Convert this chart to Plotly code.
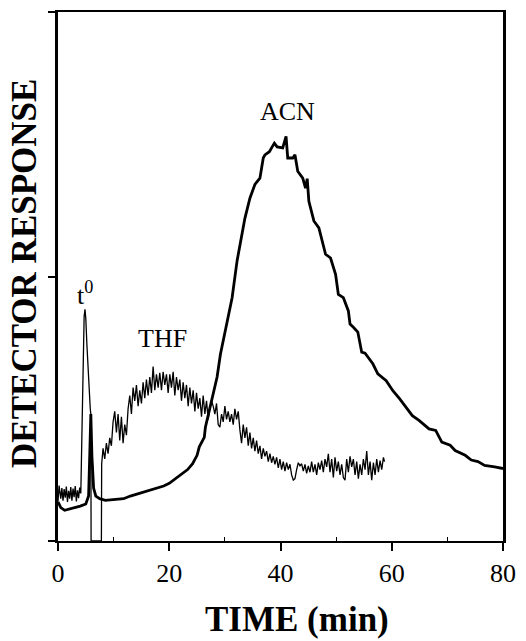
import plotly.graph_objects as go

# ---- data ----
acn_t = [0, 0.5, 1.2, 2.0, 3.0, 4.0, 5.0, 5.5, 5.7, 5.9, 6.1, 6.4, 6.8, 7.5, 8.5, 10, 11.8, 13,
         14.7, 16, 17.7, 19, 20, 21.2, 22.4, 23.3, 24.2, 25, 25.4, 26.3, 26.5, 27.7, 28.6, 29.2,
         29.8, 30.4, 31.3, 32.2, 32.7, 33.6, 34.5, 35.4, 36.3, 36.9, 37.2, 38, 38.5, 38.9, 39.4,
         40, 40.4, 41, 41.3, 42.2, 42.6, 43.1, 44, 44.5, 44.8, 45.1, 46, 46.9, 47.5, 48.1, 49,
         49.9, 50.4, 51.3, 52.2, 52.5, 53.1, 53.9, 54.6, 55.2, 56.6, 57.5, 59, 60.2, 61.4, 62.5,
         63.7, 64.9, 66.7, 67.9, 69, 70.5, 71.4, 73.2, 74.3, 75.5, 76.7, 78.5, 80]
acn_v = [7.4, 6.3, 5.8, 6.0, 6.3, 6.6, 7.0, 8.5, 16, 24, 16, 10, 8.5, 8.0, 7.7, 7.8, 8.0, 8.5,
         9.0, 9.5, 9.9, 10.4, 10.9, 11.8, 12.7, 13.5, 14.6, 16.2, 17.8, 19.6, 21.5, 27, 31, 35.3,
         38.5, 41.6, 46, 53, 56, 61, 64.8, 67.4, 68.6, 72.4, 73, 73.6, 74.5, 75.2, 74.5,
         74.3, 74.3, 76.5, 72.4, 72.4, 73, 69.9, 68.6, 66.7, 68.5, 64.2, 60.5, 59.2, 56.7, 54.2, 53.5,
         50.4, 46.6, 46, 43.5, 41, 40.4, 39.5, 35.7, 35.5, 33.5, 31.6, 30.3, 28.4, 26.9, 25.3,
         23.7, 22.8, 21.2, 20.9, 18.7, 18.1, 17.1, 16.2, 15.3, 15.0, 14.3, 14.0, 13.7]

thf_t = [0, 0.2, 0.5, 0.7, 0.9, 1.1, 1.3, 1.5, 1.7, 1.9, 2.1, 2.3, 2.5, 2.7, 2.9, 3.1, 3.3, 3.5,
         3.7, 3.9, 4.1, 4.3, 4.5, 4.7, 4.85, 5.0, 5.2, 5.4, 5.6, 5.8, 5.9, 5.95, 7.8, 7.85,
         8.1, 8.4, 8.7, 9.0, 9.3, 9.6, 9.9, 10.2, 10.5, 10.8, 11.1, 11.4, 11.7, 12.0, 12.3, 12.6,
         12.9, 13.2, 13.5, 13.8, 14.1, 14.4, 14.7, 15.0, 15.3, 15.6, 15.9, 16.2, 16.5, 16.8,
         17.1, 17.4, 17.7, 18.0, 18.3, 18.6, 18.9, 19.2, 19.5, 19.8, 20.1, 20.4, 20.7, 21.0,
         21.3, 21.6, 21.9, 22.2, 22.5, 22.8, 23.1, 23.4, 23.7, 24.0, 24.3, 24.6, 24.9, 25.2,
         25.5, 25.8, 26.1, 26.4, 26.7, 27.0, 27.3, 27.6, 27.9, 28.2, 28.5, 28.8, 29.1, 29.4,
         29.7, 30.0, 30.3, 30.6, 30.9, 31.2, 31.5, 31.8, 32.1, 32.4, 32.7, 33.0, 33.3, 33.6,
         33.9, 34.2, 34.5, 34.8, 35.1, 35.4, 35.7, 36.0, 36.3, 36.6, 36.9, 37.2, 37.5, 37.8,
         38.1, 38.4, 38.7, 39.0, 39.3, 39.6, 39.9, 40.2, 40.5, 40.8, 41.1, 41.4, 41.7, 42.0,
         42.3, 42.6, 42.9, 43.2, 43.5, 43.8, 44.1, 44.4, 44.7, 45.0, 45.3, 45.6, 45.9, 46.2,
         46.5, 46.8, 47.1, 47.4, 47.7, 48.0, 48.3, 48.6, 48.9, 49.2, 49.5, 49.8, 50.1, 50.4,
         50.7, 51.0, 51.3, 51.6, 51.9, 52.2, 52.5, 52.8, 53.1, 53.4, 53.7, 54.0, 54.3, 54.6,
         54.9, 55.2, 55.5, 55.8, 56.1, 56.4, 56.7, 57.0, 57.3, 57.6, 57.9, 58.2, 58.5, 58.7]
thf_v = [7.5, 10.5, 8.0, 10.0, 7.6, 9.8, 8.2, 10.3, 7.4, 9.5, 8.0, 10.2, 7.6, 9.9, 8.3, 10.4,
         7.5, 9.6, 8.1, 10.1, 9.0, 20, 36, 42.5, 43.8, 42, 37, 32, 27, 25, 24, 0, 0, 14.6,
         17.5, 15.5, 18.5, 16.5, 19.5, 18.0, 22.5, 24.5, 20.5, 24.0, 19.0, 23.5, 18.5, 22.0, 20.0, 25.0,
         27.5, 24.0, 29.0, 26.5, 29.5, 25.5, 28.5, 26.0, 30.0, 27.0, 30.5, 27.5, 31.0, 28.0,
         33.0, 28.5, 31.5, 29.0, 31.8, 28.5, 32.0, 29.5, 31.5, 28.0, 31.5, 29.0, 32.0, 27.5,
         31.0, 28.5, 30.5, 26.5, 30.0, 27.0, 29.5, 25.5, 29.0, 26.0, 28.5, 24.5, 28.0, 25.0,
         27.0, 23.5, 27.5, 24.0, 26.5, 23.0, 25.0, 26.5, 25.5, 24.0, 26.0, 22.0, 21.5, 24.0,
         22.5, 25.5, 23.0, 24.5, 22.5, 24.0, 22.0, 25.0, 23.0, 24.5, 21.0, 18.5, 22.0, 19.5,
         21.5, 18.0, 20.5, 17.5, 19.5, 17.0, 19.0, 16.5, 18.0, 15.5, 17.5, 16.0, 17.0, 15.0,
         16.5, 14.8, 16.0, 14.5, 15.8, 13.8, 15.5, 13.5, 15.0, 13.2, 14.8, 13.5, 14.5, 12.5,
         11.5, 11.8, 13.5, 14.8, 14.2, 14.6, 13.2, 14.5, 12.8, 14.2, 13.0, 15.0, 13.0, 14.5,
         12.5, 14.8, 13.5, 15.2, 13.0, 15.5, 14.0, 16.5, 13.0, 15.5, 12.0, 15.8, 13.2, 15.0,
         12.5, 14.5, 12.0, 11.5, 15.5, 13.0, 16.0, 14.0, 15.5, 12.5, 15.0, 11.8, 14.5, 12.5,
         15.5, 13.5, 17.0, 12.5, 15.0, 11.5, 14.8, 12.5, 15.5, 13.0, 15.2, 13.5, 15.8, 15.0]

x_ticks = [0, 20, 40, 60, 80]
x_labels = ["0", "20", "40", "60", "80"]
y_ticks = [0, 50, 100]

labels_text = ["t<sup>0</sup>", "THF", "ACN"]
labels_x = [4.8, 18.7, 41.3]
labels_y = [46.7, 38.3, 81.2]

SERIF = "Liberation Serif"

fig = go.Figure()
fig.add_trace(go.Scatter(x=thf_t, y=thf_v, mode="lines",
                         line=dict(color="black", width=1.3), showlegend=False))
fig.add_trace(go.Scatter(x=acn_t, y=acn_v, mode="lines",
                         line=dict(color="black", width=2.8), showlegend=False))

for txt, tx, ty in zip(labels_text, labels_x, labels_y):
    fig.add_annotation(x=tx, y=ty, text=txt, showarrow=False,
                       font=dict(family=SERIF, size=26, color="black"),
                       xanchor="center", yanchor="middle")

fig.add_annotation(xref="paper", yref="paper", x=-0.074, y=0.505,
                   text="<b>DETECTOR RESPONSE</b>", textangle=-90, showarrow=False,
                   font=dict(family=SERIF, size=35, color="black"),
                   xanchor="center", yanchor="middle")
fig.add_annotation(xref="paper", yref="paper", x=0.538, y=-0.149,
                   text="<b>TIME (min)</b>", showarrow=False,
                   font=dict(family=SERIF, size=35, color="black"),
                   xanchor="center", yanchor="middle")

fig.update_layout(
    width=526, height=641,
    margin=dict(l=58, r=16, t=10, b=100),
    paper_bgcolor="white", plot_bgcolor="white",
    xaxis=dict(range=[0, 80], tickvals=x_ticks, ticktext=x_labels,
               ticks="outside", ticklen=8, tickwidth=1.5, tickcolor="black",
               showline=True, linecolor="black", linewidth=2, mirror=True,
               showgrid=False, zeroline=False,
               tickfont=dict(family=SERIF, size=26, color="black"),
               minor=dict(tickvals=[10, 30, 50, 70], ticks="inside", ticklen=4,
                          tickcolor="black", tickwidth=1.2, showgrid=False)),
    yaxis=dict(range=[0, 100], tickvals=y_ticks, showticklabels=False,
               ticks="outside", ticklen=7, tickwidth=1.5, tickcolor="black",
               showline=True, linecolor="black", linewidth=2.5, mirror=True,
               showgrid=False, zeroline=False),
)

fig.write_html("out.html")
